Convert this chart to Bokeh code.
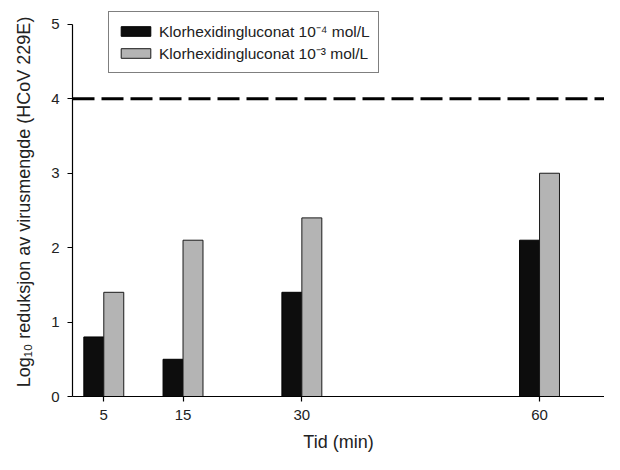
from bokeh.plotting import figure
from bokeh.models import Range1d, FixedTicker, Span, Legend, LegendItem, ColumnDataSource
from bokeh.transform import dodge
from bokeh.embed import file_html
from bokeh.resources import INLINE

# ---- data ----
times = [5, 15, 30, 60]                 # Tid (min)
low_conc = [0.8, 0.5, 1.4, 2.1]         # Klorhexidingluconat 10^-4 mol/L
high_conc = [1.4, 2.1, 2.4, 3.0]        # Klorhexidingluconat 10^-3 mol/L
y_ticks = [0, 1, 2, 3, 4, 5]
threshold = 4
series_labels = ["Klorhexidingluconat 10\u207b\u2074 mol/L",
                 "Klorhexidingluconat 10\u207b\u00b3 mol/L"]
x_label = "Tid (min)"
y_label = "Log\u2081\u2080 reduksjon av virusmengde (HCoV 229E)"

FONT = "Liberation Sans"
TXT = "#222222"

src = ColumnDataSource(dict(t=times, low=low_conc, high=high_conc))

TOP, BOTTOM_Y = 7, 398
FRAME_H = BOTTOM_Y - TOP
p = figure(width=604, height=454, output_backend="svg", toolbar_location=None,
           x_range=Range1d(1.05, 68.2), y_range=Range1d(0, 5.227),
           min_border_left=72, min_border_right=0, min_border_top=TOP,
           min_border_bottom=454 - BOTTOM_Y)

bar_w = 2.52
r1 = p.vbar(x=dodge("t", -bar_w / 2, range=p.x_range), top="low", width=bar_w,
            source=src, fill_color="#0d0d0d", line_color="#000000", line_width=1)
r2 = p.vbar(x=dodge("t", bar_w / 2, range=p.x_range), top="high", width=bar_w,
            source=src, fill_color="#b4b4b4", line_color="#1a1a1a", line_width=1)

p.add_layout(Span(location=threshold, dimension="width", line_color="#000000",
                  line_width=3, line_dash="22 7"))

legend = Legend(items=[LegendItem(label=series_labels[0], renderers=[r1]),
                       LegendItem(label=series_labels[1], renderers=[r2])],
                location=(36, FRAME_H - 68), orientation="vertical")
legend.border_line_color = "#000000"
legend.border_line_width = 1.5
legend.padding = 8
legend.spacing = 0
legend.margin = 0
legend.label_height = 22
legend.glyph_width = 37
legend.glyph_height = 12
legend.label_standoff = 5
legend.label_text_font = FONT
legend.label_text_font_size = "15.5px"
legend.label_text_color = TXT
legend.background_fill_alpha = 1
p.add_layout(legend)

p.xaxis.ticker = FixedTicker(ticks=times)
p.yaxis.ticker = FixedTicker(ticks=y_ticks)
p.yaxis.bounds = (y_ticks[0], y_ticks[-1])
p.xaxis.axis_label = x_label
p.yaxis.axis_label = y_label

for ax in (p.xaxis, p.yaxis):
    ax.minor_tick_line_color = None
    ax.major_tick_in = 0
    ax.major_tick_out = 5
    ax.axis_line_width = 1.2
    ax.major_tick_line_width = 1.2
    ax.axis_line_color = "#000000"
    ax.major_tick_line_color = "#000000"
    ax.major_label_text_font = FONT
    ax.major_label_text_font_size = "15px"
    ax.major_label_text_color = TXT
    ax.axis_label_text_font = FONT
    ax.axis_label_text_font_size = "18px"
    ax.axis_label_text_font_style = "normal"
    ax.axis_label_text_color = TXT

p.yaxis.major_label_standoff = 8
p.yaxis.axis_label_standoff = 14
p.xaxis.major_label_standoff = 8
p.xaxis.axis_label_standoff = 9

p.grid.visible = False
p.outline_line_color = None

open("out.html", "w").write(file_html(p, INLINE))
